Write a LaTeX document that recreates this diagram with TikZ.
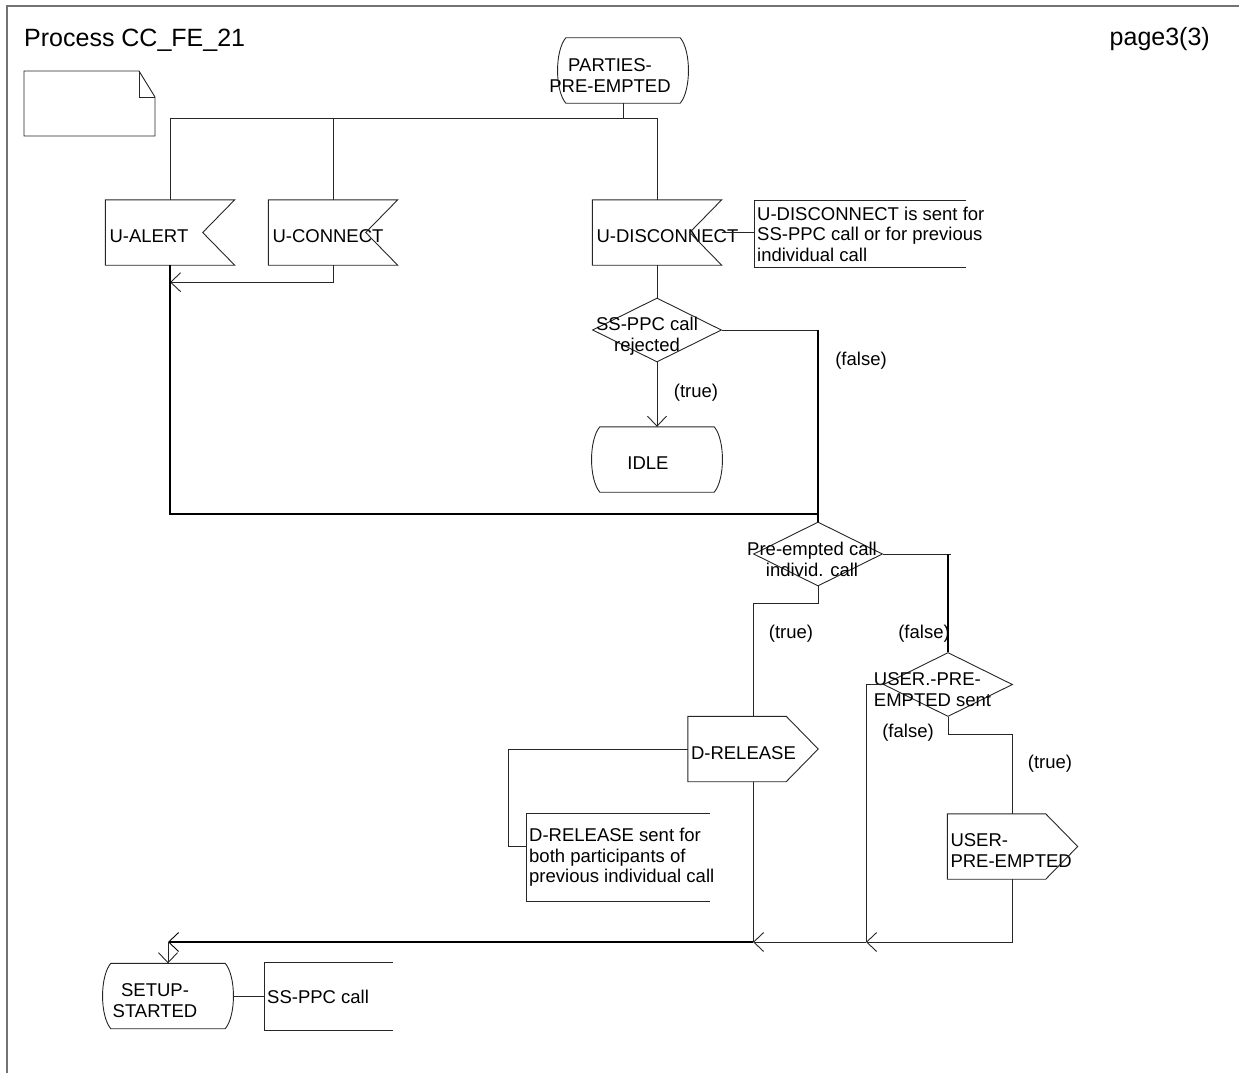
\documentclass[tikz,border=0pt]{standalone}
\usepackage{fontspec}
\setmainfont{Liberation Sans}
\usetikzlibrary{shapes.geometric,arrows.meta,positioning,calc}
\newcommand{\sdlfont}{\fontsize{18.5}{20.5}\selectfont}
\tikzstyle{sym} = [draw=black!85, line width=0.9pt]
\tikzstyle{conn} = [draw=black!85, line width=0.9pt]
\tikzstyle{bus} = [draw=black, line width=2pt]
\tikzstyle{arr} = [-{Straight Barb[length=10pt,width=19pt,line width=0.9pt]}]
\tikzstyle{state} = [minimum width=130pt, minimum height=65pt, inner sep=0pt]
\tikzstyle{inp} = [minimum height=65pt, inner xsep=4pt, inner ysep=0pt, text width=121pt, text height=21pt, align=left, font=\sdlfont]
\tikzstyle{outp} = [minimum height=65pt, inner xsep=3pt, inner ysep=0pt, text width=124pt, text height=21pt, align=left, font=\sdlfont]
\tikzstyle{dec} = [diamond, sym, minimum width=129pt, minimum height=64pt, inner sep=0pt]
\tikzstyle{cmt} = [anchor=west, minimum height=66pt, inner xsep=3pt, inner ysep=0pt, align=left, font=\sdlfont]
\tikzstyle{symtxt} = [font=\sdlfont, align=center, inner sep=0pt]
\tikzstyle{lbl} = [font=\sdlfont, inner sep=0pt]
% outlines of the SDL symbols
\newcommand{\inpshape}[1]{\draw[sym] (#1.north west) -- (#1.north east) -- ($(#1.east)+(-32,0)$) -- (#1.south east) -- (#1.south west) -- cycle;}
\newcommand{\outshape}[1]{\draw[sym] (#1.north west) -- ($(#1.north east)+(-32,0)$) -- (#1.east) -- ($(#1.south east)+(-32,0)$) -- (#1.south west) -- cycle;}
\newcommand{\stateshape}[1]{\draw[sym] ($(#1.north west)+(8,0)$) -- ($(#1.north east)+(-8,0)$) .. controls ($(#1.north east)+(3,13)$) and ($(#1.south east)+(3,-13)$) .. ($(#1.south east)+(-8,0)$) -- ($(#1.south west)+(8,0)$) .. controls ($(#1.south west)+(-3,-13)$) and ($(#1.north west)+(-3,13)$) .. cycle;}
\newcommand{\cmtshape}[2]{\draw[sym] ($(#1.north west)+(#2,0)$) -- (#1.north west) -- (#1.south west) -- ($(#1.south west)+(#2,0)$);}

\begin{document}
\begin{tikzpicture}[x=1pt, y=-1pt]
    \useasboundingbox (0,0) rectangle (1239,1073);
    \draw[black!55, line width=1.2pt] (7,1073) -- (7,6) -- (1239,6);
    \node[font=\fontsize{25}{28}\selectfont, anchor=base west, inner sep=0pt] (title) at (24,47) {Process CC\_FE\_21};
    \node[font=\fontsize{25}{28}\selectfont, anchor=base east, inner sep=0pt] (page) at (1210,46) {page3(3)};
    % text symbol
    \draw[sym] (24,71) -- (139,71) -- (155,97) -- (155,136) -- (24,136) -- cycle;
    \draw[sym] (139,71) -- (139,97) -- (155,97);

    \node[state, label={[symtxt,xshift=-13pt,yshift=-5pt]center:{PARTIES-\\PRE-EMPTED}}] (parties) at (623,70.5) {};
    \node[inp] (alert) at (170,232.5) {U-ALERT};
    \node[inp] (uconn) at (333,232.5) {U-CONNECT};
    \node[inp] (disc) at (657,232.5) {\mbox{U-DISCONNECT}};
    \node[cmt] (cdisc) at (754,234) {U-DISCONNECT is sent for\\SS-PPC call or for previous\\individual call};
    \node[dec, label={[symtxt,xshift=-10pt,yshift=-6pt]center:{SS-PPC call\\rejected}}] (rej) at (657,330) {};
    \node[state, label={[symtxt,xshift=-9pt,yshift=-3.5pt]center:IDLE}] (idle) at (657,459.5) {};
    \node[dec, label={[symtxt,xshift=-6pt,yshift=-5.5pt]center:{Pre-empted call\\individ. call}}] (indiv) at (818,554) {};
    \node[dec, label={[symtxt,align=left,xshift=-15.5pt,yshift=-5pt]center:{USER.-PRE-\\EMPTED sent}}] (sent) at (948,684.5) {};
    \node[outp] (drel) at (753,749) {D-RELEASE};
    \node[cmt, minimum height=87pt] (cdrel) at (526,857.5) {D-RELEASE sent for\\both participants of\\previous individual call};
    \node[outp] (user) at (1012.5,846.5) {USER-\\\mbox{PRE-EMPTED}};
    \node[state, label={[symtxt,xshift=-13pt,yshift=-4.5pt]center:{SETUP-\\STARTED}}] (setup) at (168,996) {};
    \node[cmt, minimum height=67pt] (csetup) at (264,996.5) {SS-PPC call};

    \stateshape{parties}
    \stateshape{idle}
    \stateshape{setup}
    \inpshape{alert}
    \inpshape{uconn}
    \inpshape{disc}
    \outshape{drel}
    \outshape{user}
    \cmtshape{cdisc}{212}
    \cmtshape{cdrel}{184}
    \cmtshape{csetup}{129}

    \node[lbl] (t1) at (696,393) {(true)};
    \node[lbl] (f1) at (861,361) {(false)};
    \node[lbl] (t2) at (791,634) {(true)};
    \node[lbl] (f2) at (924,634) {(false)};
    \node[lbl] (f3) at (908,733) {(false)};
    \node[lbl] (t3) at (1050,764) {(true)};

    \coordinate (top) at (0,118);
    \coordinate (loop) at (818,514);
    \coordinate (m1) at (866,942);
    \coordinate (m2) at (753,942);
    \coordinate (m3) at (168,942);

    \draw[conn] (parties.south) -- (parties.south |- top);
    \draw[conn] (alert.north) |- (disc.north |- top) -- (disc.north);
    \draw[conn] (uconn.north) -- (uconn.north |- top);
    \draw[conn,arr] (uconn.south) |- ($(alert.south)+(0,17)$);
    \draw[conn] (disc.east) -- (disc.east -| cdisc.west);
    \draw[conn] (disc.south) -- (rej.north);
    \draw[conn,arr] (rej.south) -- (idle.north);
    \draw[conn] (rej.east) -- (rej.east -| loop);
    \draw[bus] (rej.east -| loop) -- (loop);
    \draw[bus] (alert.south) |- (loop) -- (indiv.north);
    \draw[conn] (indiv.south) -- ++(0,17) -| (drel.north);
    \draw[conn] (indiv.east) -- ++(68,0);
    \draw[bus] (indiv.east -| sent.north) -- (sent.north);
    \draw[conn] (drel.west) -- ++(-179,0) |- ($(cdrel.west)+(0,-11.5)$);
    \draw[conn] (sent.south) -- ++(0,17) -| (user.north);
    \draw[conn] (sent.west) -| (m1);
    \draw[conn,arr] (user.south) |- (m1);
    \draw[conn,arr] (m1) -- (m2);
    \draw[conn] (drel.south) -- (m2);
    \draw[bus,arr] (m2) -- (m3);
    \draw[conn,arr] (m3) -- (setup.north);
    \draw[conn] (setup.east) -- (setup.east -| csetup.west);
\end{tikzpicture}
\end{document}
